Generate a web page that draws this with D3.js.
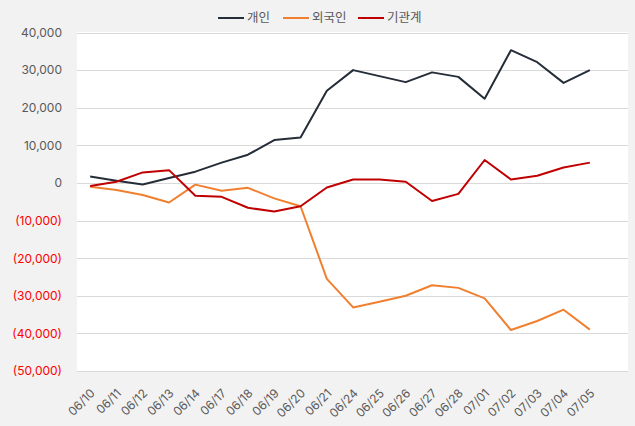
<!DOCTYPE html>
<html><head><meta charset="utf-8">
<script src="https://cdn.jsdelivr.net/npm/d3@7"></script>
<style>
html,body{margin:0;padding:0;background:#f2f2f2;}
svg{display:block;}
</style></head>
<body><svg id="c" width="635" height="426"></svg>
<script>
const categories = ["06/10","06/11","06/12","06/13","06/14","06/17","06/18","06/19","06/20","06/21","06/24","06/25","06/26","06/27","06/28","07/01","07/02","07/03","07/04","07/05"];
const individual = [1700,600,-400,1300,3000,5400,7500,11400,12100,24500,30000,28400,26800,29400,28200,22400,35300,32100,26600,30000];
const foreign = [-1000,-1900,-3200,-5200,-450,-2100,-1300,-4100,-6200,-25500,-33100,-31600,-30000,-27200,-27900,-30700,-39100,-36700,-33700,-39000];
const institution = [-800,300,2800,3400,-3400,-3700,-6600,-7600,-6200,-1200,900,900,300,-4800,-2900,6100,900,1900,4100,5400];
const yTicks = [40000,30000,20000,10000,0,-10000,-20000,-30000,-40000,-50000];
const seriesNames = ["개인","외국인","기관계"];
const seriesColors = ["#252d38","#f0802f","#c00000"];

const FONT = 'Inter, "Noto Sans CJK KR", "Noto Sans", sans-serif';
const svg = d3.select("#c").attr("font-family", FONT);
const plot = {left:77, right:628, top:32, bottom:371};
const axisRight = 603;

svg.append("rect").attr("x",plot.left).attr("y",plot.top)
  .attr("width",plot.right-plot.left).attr("height",plot.bottom-plot.top).attr("fill","#ffffff");

const x = d3.scalePoint().domain(categories).range([plot.left, axisRight]).padding(0.5);
const y = d3.scaleLinear().domain([-50000,40000]).range([plot.bottom, plot.top+0.5]);

const fmt = v => v < 0 ? "(" + d3.format(",")(-v) + ")" : d3.format(",")(v);

// gridlines
svg.append("g").selectAll("line").data(yTicks).join("line")
  .attr("x1",plot.left).attr("x2",plot.right)
  .attr("y1",d=>Math.round(y(d))+0.5).attr("y2",d=>Math.round(y(d))+0.5)
  .attr("stroke","#d9d9d9").attr("stroke-width",1);

// y axis
const ya = svg.append("g").attr("transform",`translate(${plot.left-15},0)`)
  .call(d3.axisLeft(y).tickValues(yTicks).tickFormat(fmt).tickSize(0).tickPadding(0))
  .attr("font-family", FONT);
ya.select(".domain").remove();
ya.selectAll("text").attr("font-size","12px")
  .attr("fill",d=>d<0?"#ff0000":"#595959");

// x axis
const xa = svg.append("g").attr("transform",`translate(0,${plot.bottom})`)
  .call(d3.axisBottom(x).tickSize(0).tickPadding(0))
  .attr("font-family", FONT);
xa.select(".domain").remove();
xa.selectAll("text").attr("font-size","12px").attr("fill","#595959")
  .attr("text-anchor","end").attr("y",0).attr("dy",0)
  .attr("transform","translate(5,23) rotate(-45)");

// lines
const allSeries = [individual, foreign, institution];
const line = d3.line().x((d,i)=>x(categories[i])).y(d=>y(d));
allSeries.forEach((s,k)=>{
  svg.append("path").datum(s).attr("d",line).attr("fill","none")
    .attr("stroke",seriesColors[k]).attr("stroke-width",2).attr("stroke-linejoin","round");
});

// legend
const legendX = [218, 283, 358];
const lg = svg.append("g");
seriesNames.forEach((n,k)=>{
  lg.append("line").attr("x1",legendX[k]).attr("x2",legendX[k]+26)
    .attr("y1",18).attr("y2",18).attr("stroke",seriesColors[k]).attr("stroke-width",2);
  lg.append("text").attr("x",legendX[k]+29).attr("y",18).attr("dy","0.35em")
    .attr("font-size","12.5px").attr("fill","#595959").text(n);
});
</script></body></html>
